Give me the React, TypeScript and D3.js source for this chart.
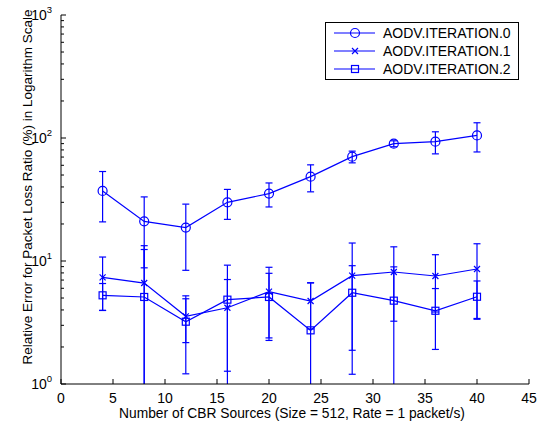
import { useEffect, useRef } from "react";
import * as d3 from "d3";

// number of CBR sources
const sources = [4, 8, 12, 16, 20, 24, 28, 32, 36, 40];

// relative error (%) per iteration, with error bar half-width
const iter0 = [37.1, 21.0, 18.7, 30.0, 35.3, 48.5, 70.5, 89.9, 93.3, 105];
const err0 = [16.3, 12.2, 10.3, 8.2, 7.8, 12, 7.7, 5, 19, 28];
const iter1 = [7.37, 6.62, 3.55, 4.17, 5.63, 4.73, 7.6, 8.14, 7.55, 8.61];
const err1 = [3.4, 6.7, 1.38, 2.9, 3.26, 1.93, 6.4, 4.9, 3.7, 5.2];
const iter2 = [5.26, 5.1, 3.21, 4.85, 5.1, 2.73, 5.52, 4.76, 3.94, 5.12];
const err2 = [1.3, 7.3, 2.0, 4.4, 2.84, 3.9, 3.64, 4.2, 2.03, 1.76];

const seriesNames = ["AODV.ITERATION.0", "AODV.ITERATION.1", "AODV.ITERATION.2"];
const markers = ["circle", "x", "square"];

const xTicks = [0, 5, 10, 15, 20, 25, 30, 35, 40, 45];
const yExponents = [0, 1, 2, 3];

const xLabel = "Number of CBR Sources (Size = 512, Rate = 1 packet/s)";
const yLabel = "Relative Error for Packet Loss Ratio (%) in Logarithm Scale";

const App = () => {
    const svgRef = useRef(null);

    useEffect(() => {
        const svg = d3.select(svgRef.current);
        svg.selectAll("*").remove();

        const blue = "#0000ff";
        const font = "'Liberation Sans', Arial, Helvetica, sans-serif";
        const left = 61, right = 529, top = 15, bottom = 384;
        const lw = 1.2;

        const x = d3.scaleLinear([0, 45], [left, right]);
        const y = d3.scaleLog([1, 1000], [bottom, top]);

        svg.append("clipPath").attr("id", "plotclip")
            .append("rect")
            .attr("x", left).attr("y", top)
            .attr("width", right - left).attr("height", bottom - top);

        const data = [
            { vals: iter0, errs: err0 },
            { vals: iter1, errs: err1 },
            { vals: iter2, errs: err2 },
        ];

        const drawMarker = (g, kind, cx, cy) => {
            if (kind === "circle") {
                g.append("circle").attr("cx", cx).attr("cy", cy).attr("r", 4.5)
                    .attr("fill", "none").attr("stroke", blue).attr("stroke-width", lw);
            } else if (kind === "square") {
                g.append("rect").attr("x", cx - 3.5).attr("y", cy - 3.5)
                    .attr("width", 7).attr("height", 7)
                    .attr("fill", "none").attr("stroke", blue).attr("stroke-width", lw);
            } else {
                const s = 3;
                g.append("path")
                    .attr("d", `M${cx - s},${cy - s}L${cx + s},${cy + s}M${cx - s},${cy + s}L${cx + s},${cy - s}`)
                    .attr("stroke", blue).attr("stroke-width", lw);
            }
        };

        const plot = svg.append("g").attr("clip-path", "url(#plotclip)");

        data.forEach((s, si) => {
            const g = plot.append("g");
            // error bars
            sources.forEach((src, i) => {
                const cx = x(src);
                const hi = s.vals[i] + s.errs[i];
                const lo = s.vals[i] - s.errs[i];
                const yHi = y(hi);
                const yLo = lo > 0 ? y(lo) : bottom + 20;
                g.append("line").attr("x1", cx).attr("x2", cx)
                    .attr("y1", yHi).attr("y2", yLo)
                    .attr("stroke", blue).attr("stroke-width", lw);
                g.append("line").attr("x1", cx - 3.5).attr("x2", cx + 3.5)
                    .attr("y1", yHi).attr("y2", yHi)
                    .attr("stroke", blue).attr("stroke-width", lw);
                if (lo > 0) {
                    g.append("line").attr("x1", cx - 3.5).attr("x2", cx + 3.5)
                        .attr("y1", yLo).attr("y2", yLo)
                        .attr("stroke", blue).attr("stroke-width", lw);
                }
            });
            const line = d3.line().x((d) => x(d[0])).y((d) => y(d[1]));
            g.append("path")
                .attr("d", line(sources.map((src, i) => [src, s.vals[i]])))
                .attr("fill", "none").attr("stroke", blue).attr("stroke-width", lw);
            sources.forEach((src, i) => drawMarker(g, markers[si], x(src), y(s.vals[i])));
        });

        // axes (inward ticks, no box)
        const axes = svg.append("g").attr("stroke", "black").attr("stroke-width", 1);
        axes.append("line").attr("x1", left).attr("x2", right).attr("y1", bottom).attr("y2", bottom);
        axes.append("line").attr("x1", left).attr("x2", left).attr("y1", top).attr("y2", bottom);

        xTicks.forEach((t) => {
            axes.append("line").attr("x1", x(t)).attr("x2", x(t))
                .attr("y1", bottom).attr("y2", bottom - 5);
            svg.append("text").attr("x", x(t)).attr("y", 402.5)
                .attr("text-anchor", "middle").attr("font-family", font)
                .attr("font-size", 14).text(t);
        });

        yExponents.forEach((e) => {
            const yy = y(Math.pow(10, e));
            axes.append("line").attr("x1", left).attr("x2", left + 5).attr("y1", yy).attr("y2", yy);
            if (e < 3) {
                for (let m = 2; m <= 9; m++) {
                    const ym = y(m * Math.pow(10, e));
                    axes.append("line").attr("x1", left).attr("x2", left + 3).attr("y1", ym).attr("y2", ym);
                }
            }
            const label = svg.append("text").attr("x", 52).attr("y", yy + 5)
                .attr("text-anchor", "end").attr("font-family", font).attr("font-size", 14);
            label.append("tspan").text("10");
            label.append("tspan").attr("font-size", 9.5).attr("dy", -7).text(e);
        });

        svg.append("text").attr("x", 292).attr("y", 418)
            .attr("text-anchor", "middle").attr("font-family", font)
            .attr("font-size", 13.8).text(xLabel);

        svg.append("text")
            .attr("transform", `translate(32, 187) rotate(-90)`)
            .attr("text-anchor", "middle").attr("font-family", font)
            .attr("font-size", 13.5).text(yLabel);

        // legend
        const legend = svg.append("g");
        legend.append("rect").attr("x", 325.5).attr("y", 22.5)
            .attr("width", 193).attr("height", 57)
            .attr("fill", "white").attr("stroke", "black").attr("stroke-width", 1);
        seriesNames.forEach((name, i) => {
            const ly = 33 + i * 18;
            legend.append("line").attr("x1", 334).attr("x2", 375).attr("y1", ly).attr("y2", ly)
                .attr("stroke", blue).attr("stroke-width", lw);
            drawMarker(legend, markers[i], 355, ly);
            legend.append("text").attr("x", 383).attr("y", ly + 5)
                .attr("font-family", font).attr("font-size", 14).text(name);
        });
    }, []);

    return (
        <div style={{ position: "absolute", left: 0, top: 0, width: 540, height: 424, background: "white" }}>
            <svg ref={svgRef} width={540} height={424}></svg>
        </div>
    );
};

export default App;
